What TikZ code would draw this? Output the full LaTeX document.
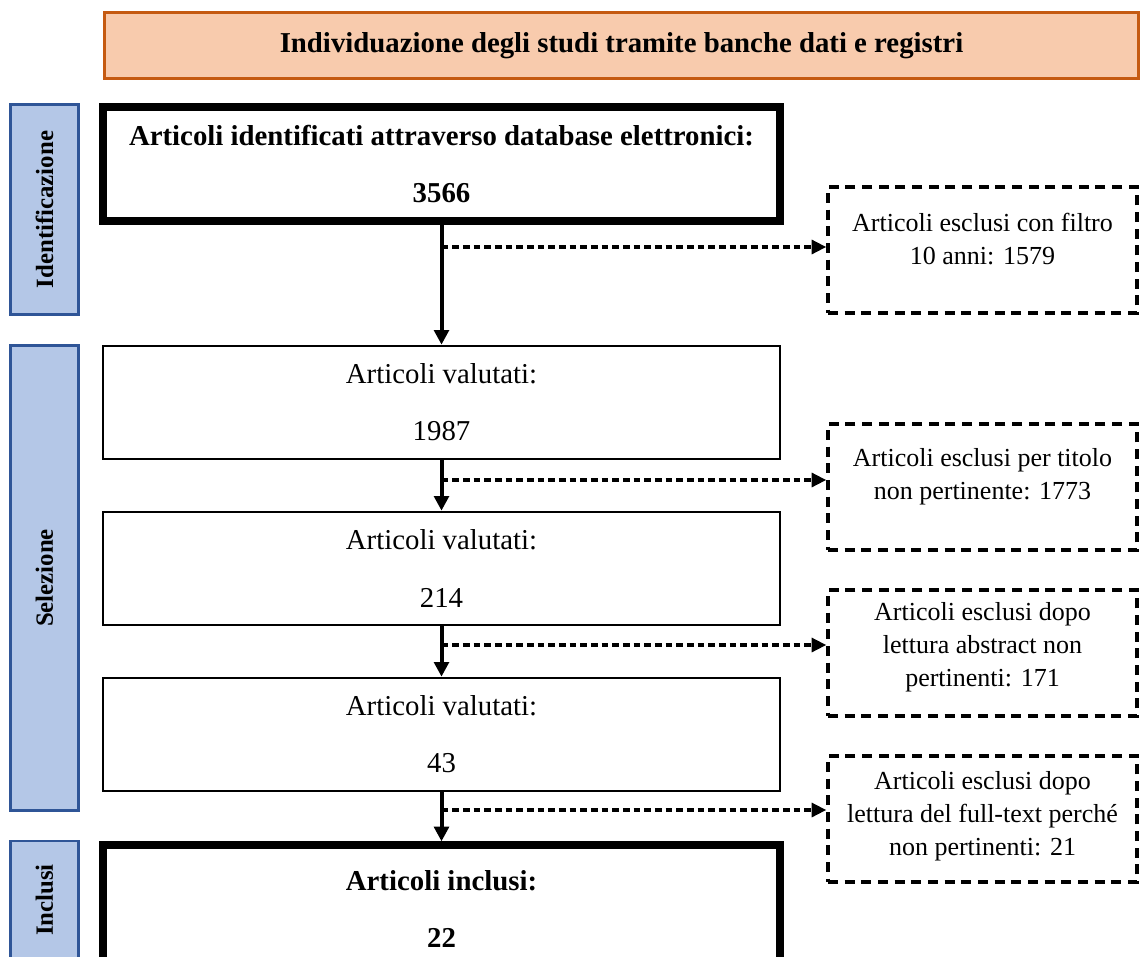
\documentclass[tikz,border=0pt]{standalone}
\usepackage{fontspec}
\setmainfont{Liberation Serif}
\usepackage{tikz}
\usetikzlibrary{arrows.meta, positioning, shapes}
\definecolor{titlefill}{HTML}{F8CBAD}
\definecolor{titledraw}{HTML}{C55A11}
\definecolor{phasefill}{HTML}{B4C7E7}
\definecolor{phasedraw}{HTML}{2F5597}
\newcommand{\mainwidth}{508pt}
\newcommand{\mainheight}{85pt}
\newcommand{\exclwidth}{231.75pt}
\newcommand{\exclheight}{94.5pt}
\tikzstyle{banner} = [% title banner
  rectangle,
  minimum width=775.5pt,
  minimum height=49.5pt,
  text centered,
  draw=titledraw,
  line width=2.2pt,
  fill=titlefill,
  font=\fontsize{21.6pt}{26pt}\selectfont\bfseries
  ]
\tikzstyle{phase} = [% side phase label
  rectangle,
  rotate=90,
  minimum height=51pt,
  text centered,
  draw=phasedraw,
  line width=2.2pt,
  fill=phasefill,
  font=\fontsize{18.6pt}{22pt}\selectfont\bfseries
  ]
\tikzstyle{process} = [% counting box
  rectangle,
  minimum width=\mainwidth,
  minimum height=\mainheight,
  align=center,
  draw=black,
  line width=1.5pt,
  fill=white,
  font=\fontsize{21.6pt}{43pt}\selectfont
  ]
\tikzstyle{keybox} = [% first and last box
  process,
  line width=6pt,
  font=\fontsize{21.6pt}{43pt}\selectfont\bfseries
  ]
\tikzstyle{excluded} = [% excluded records box
  rectangle,
  minimum width=\exclwidth,
  minimum height=\exclheight,
  draw=black,
  line width=2.6pt,
  dash pattern=on 7.5pt off 5pt
  ]
\tikzstyle{excltext} = [% text inside excluded box
  align=center,
  font=\fontsize{19.5pt}{24.75pt}\selectfont
  ]
\tikzstyle{flowarrow} = [% main flow
  line width=3pt,
  -{Triangle[width=11pt,length=11pt]}
  ]
\tikzstyle{exclarrow} = [% side arrow to excluded
  line width=2.4pt,
  dash pattern=on 5pt off 3pt,
  -{Triangle[width=10.5pt,length=11pt]}
  ]

\begin{document}
\begin{tikzpicture}[x=0.75pt, y=-0.75pt, node distance=38pt]
\useasboundingbox (0,0) rectangle (1141,956);
\clip (0,0) rectangle (1141,956);

%%% Title and phases
\node[banner] (title) at (621.5,45.5) {Individuazione degli studi tramite banche dati e registri};
\node[phase, minimum width=157.5pt] (phaseid) at (44.5,209.5) {Identificazione};
\node[phase, minimum width=349pt] (phasesel) at (44.5,578) {Selezione};
\node[phase, minimum width=88.5pt] (phaseinc) at (44.5,900) {Inclusi};

%%% Main column
\node[keybox] (found) at (441.5,164) {Articoli identificati attraverso database elettronici:\\3566};
\node[process] (eval1) [below=90pt of found] {Articoli valutati:\\1987};
\node[process] (eval2) [below=of eval1] {Articoli valutati:\\214};
\node[process] (eval3) [below=of eval2] {Articoli valutati:\\43};
\node[keybox, minimum height=95pt] (incl) [below=37pt of eval3] {Articoli inclusi:\\22};

%%% Excluded
\node[excluded] (excl1) at (982.5,250) {};
\node[excluded] (excl2) at (982.5,487) {};
\node[excluded] (excl3) at (982.5,653) {};
\node[excluded] (excl4) at (982.5,819) {};
\node[excltext] (excl1txt) at (982.5,239) {Articoli esclusi con filtro\\10 anni: 1579};
\node[excltext] (excl2txt) at (982.5,476.5) {Articoli esclusi per titolo\\non pertinente: 1773};
\node[excltext] (excl3txt) at (982.5,647.5) {Articoli esclusi dopo\\lettura abstract non\\pertinenti: 171};
\node[excltext] (excl4txt) at (982.5,816) {Articoli esclusi dopo\\lettura del full-text perché\\non pertinenti: 21};

%%% Connectors
\coordinate (split1) at (441.5,247);
\coordinate (split2) at (441.5,480);
\coordinate (split3) at (441.5,645);
\coordinate (split4) at (441.5,810);
\draw[flowarrow] (found) -- (eval1);
\draw[flowarrow] (eval1) -- (eval2);
\draw[flowarrow] (eval2) -- (eval3);
\draw[flowarrow] (eval3) -- (incl);
\draw[exclarrow] (split1) -- (split1 -| excl1.west);
\draw[exclarrow] (split2) -- (split2 -| excl2.west);
\draw[exclarrow] (split3) -- (split3 -| excl3.west);
\draw[exclarrow] (split4) -- (split4 -| excl4.west);

\end{tikzpicture}
\end{document}
